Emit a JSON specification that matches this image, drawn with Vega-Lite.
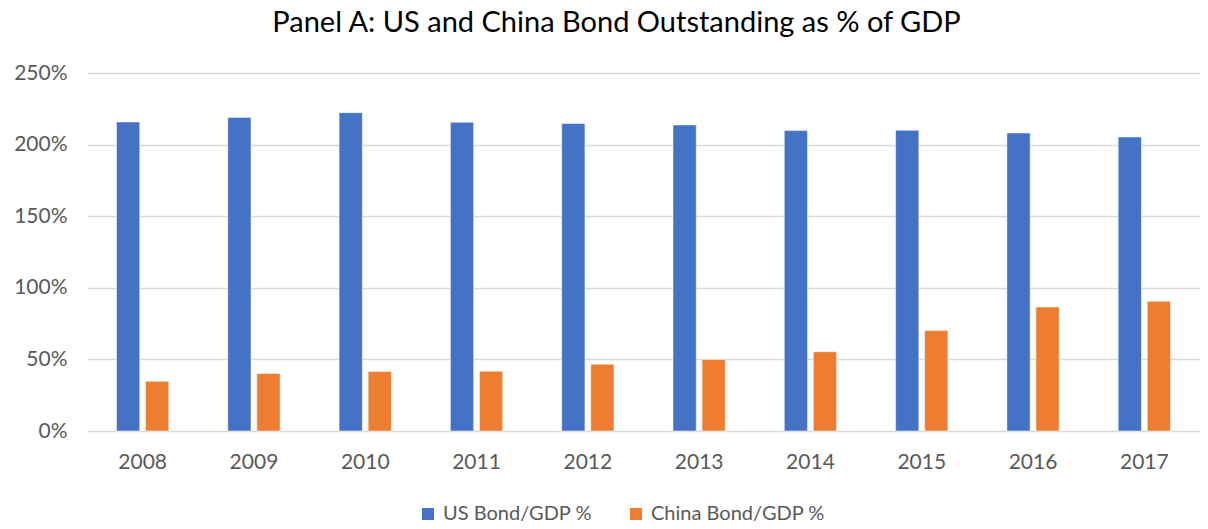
{
  "$schema": "https://vega.github.io/schema/vega-lite/v6.json",
  "autosize": {"type": "none"},
  "width": 1113,
  "height": 358,
  "padding": {"left": 87, "top": 73, "right": 8, "bottom": 98},
  "background": "white",
  "title": {
    "text": "Panel A: US and China Bond Outstanding as % of GDP",
    "font": "Lato",
    "fontSize": 29,
    "fontWeight": "normal",
    "color": "#000000",
    "anchor": "middle",
    "frame": "group",
    "dx": -27,
    "offset": 24
  },
  "data": {
    "values": [
      {"year": "2008", "series": "US Bond/GDP %", "value": 215.8},
      {"year": "2009", "series": "US Bond/GDP %", "value": 218.9},
      {"year": "2010", "series": "US Bond/GDP %", "value": 222.3},
      {"year": "2011", "series": "US Bond/GDP %", "value": 215.6},
      {"year": "2012", "series": "US Bond/GDP %", "value": 214.7},
      {"year": "2013", "series": "US Bond/GDP %", "value": 213.7},
      {"year": "2014", "series": "US Bond/GDP %", "value": 209.8},
      {"year": "2015", "series": "US Bond/GDP %", "value": 210.0},
      {"year": "2016", "series": "US Bond/GDP %", "value": 208.1},
      {"year": "2017", "series": "US Bond/GDP %", "value": 205.3},
      {"year": "2008", "series": "China Bond/GDP %", "value": 34.7},
      {"year": "2009", "series": "China Bond/GDP %", "value": 40.1},
      {"year": "2010", "series": "China Bond/GDP %", "value": 41.5},
      {"year": "2011", "series": "China Bond/GDP %", "value": 41.7},
      {"year": "2012", "series": "China Bond/GDP %", "value": 46.6},
      {"year": "2013", "series": "China Bond/GDP %", "value": 49.9},
      {"year": "2014", "series": "China Bond/GDP %", "value": 55.4},
      {"year": "2015", "series": "China Bond/GDP %", "value": 70.1},
      {"year": "2016", "series": "China Bond/GDP %", "value": 86.6},
      {"year": "2017", "series": "China Bond/GDP %", "value": 90.6}
    ]
  },
  "mark": {"type": "bar", "stroke": "white", "strokeOpacity": 0.5, "strokeWidth": 1},
  "encoding": {
    "x": {
      "field": "year",
      "type": "nominal",
      "scale": {"paddingInner": 0.53, "paddingOuter": 0.265},
      "axis": {
        "title": null,
        "labelAngle": 0,
        "labelFont": "Lato",
        "labelFontSize": 21,
        "labelColor": "#595959",
        "labelPadding": 20,
        "ticks": false,
        "domain": false,
        "grid": false
      }
    },
    "xOffset": {
      "field": "series",
      "type": "nominal",
      "sort": ["US Bond/GDP %", "China Bond/GDP %"],
      "scale": {"paddingInner": 0.2, "paddingOuter": 0}
    },
    "y": {
      "field": "value",
      "type": "quantitative",
      "scale": {"domain": [0, 250], "nice": false},
      "axis": {
        "title": null,
        "values": [0, 50, 100, 150, 200, 250],
        "labelExpr": "datum.value + '%'",
        "labelFont": "Lato",
        "labelFontSize": 21,
        "labelColor": "#595959",
        "labelPadding": 20,
        "ticks": false,
        "domain": false,
        "grid": true,
        "gridColor": "#d9d9d9",
        "gridWidth": 1.3
      }
    },
    "color": {
      "field": "series",
      "type": "nominal",
      "sort": ["US Bond/GDP %", "China Bond/GDP %"],
      "scale": {"domain": ["US Bond/GDP %", "China Bond/GDP %"], "range": ["#4472C4", "#ED7D31"]},
      "legend": {
        "title": null,
        "orient": "none",
        "legendX": 331,
        "legendY": 431,
        "direction": "horizontal",
        "symbolType": "square",
        "symbolSize": 144,
        "symbolStrokeWidth": 0,
        "labelFont": "Lato",
        "labelFontSize": 20,
        "labelLimit": 400,
        "labelColor": "#595959",
        "labelOffset": 5,
        "columnPadding": 34
      }
    }
  },
  "config": {"view": {"stroke": null}}
}
